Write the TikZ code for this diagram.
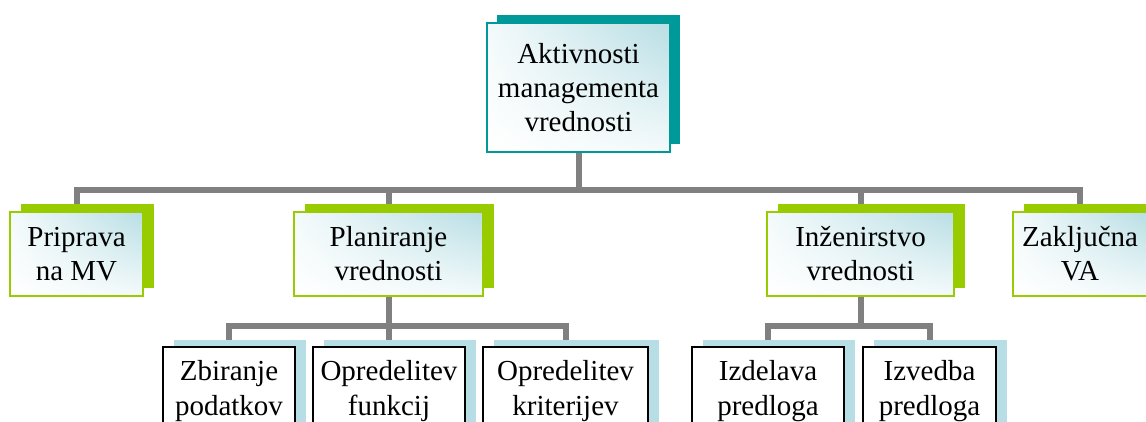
\documentclass[tikz,border=0pt]{standalone}
\usepackage{fontspec}
\setmainfont{Liberation Serif}
\usetikzlibrary{shadows,shadings,backgrounds}

\definecolor{tealdark}{RGB}{0,153,153}
\definecolor{limegreen}{RGB}{153,204,0}
\definecolor{paleblue}{RGB}{183,222,228}
\definecolor{paletint}{RGB}{244,250,251}
\definecolor{connectorgray}{RGB}{128,128,128}

\tikzset{
  box/.style={rectangle, inner sep=0pt, align=center,
    font=\fontsize{29}{34}\selectfont,
    upper left=paletint, upper right=paleblue,
    lower left=white, lower right=paletint},
  rootbox/.style={box, draw=tealdark, line width=1.5pt,
    general shadow={fill=tealdark, shadow xshift=10pt, shadow yshift=8pt}},
  phasebox/.style={box, draw=limegreen, line width=2pt,
    general shadow={fill=limegreen, shadow xshift=11pt, shadow yshift=8pt}},
  taskbox/.style={rectangle, inner sep=0pt, align=center,
    font=\fontsize{29}{35}\selectfont,
    fill=white, draw=black, line width=2.5pt,
    general shadow={fill=paleblue, shadow xshift=11pt, shadow yshift=7pt}},
  conn/.style={draw=connectorgray, line width=6pt}
}

\begin{document}
\begin{tikzpicture}[x=1pt, y=1pt]
  \useasboundingbox (0,0) rectangle (1146,-422);

  % root
  \node[rootbox, minimum width=183pt, minimum height=129pt]
    (root) at (578.5,-87.5) {Aktivnosti\\managementa\\vrednosti};

  % phases
  \node[phasebox, minimum width=133pt, minimum height=84pt]
    (prip) at (76.5,-254) {Priprava\\na MV};
  \node[phasebox, minimum width=189pt, minimum height=84pt]
    (plan) at (388.5,-254) {Planiranje\\vrednosti};
  \node[phasebox, minimum width=187pt, minimum height=84pt]
    (inz) at (860.5,-254) {Inženirstvo\\vrednosti};
  \node[phasebox, minimum width=134pt, minimum height=84pt]
    (zakl) at (1080,-254) {Zaključna\\VA};

  % tasks
  \node[taskbox, minimum width=132pt, minimum height=88pt]
    (zbir) at (229,-391) {Zbiranje\\podatkov};
  \node[taskbox, minimum width=152pt, minimum height=88pt]
    (funk) at (389,-391) {Opredelitev\\funkcij};
  \node[taskbox, minimum width=165pt, minimum height=88pt]
    (krit) at (565.5,-391) {Opredelitev\\kriterijev};
  \node[taskbox, minimum width=152pt, minimum height=88pt]
    (izde) at (768,-391) {Izdelava\\predloga};
  \node[taskbox, minimum width=133pt, minimum height=88pt]
    (izve) at (929.5,-391) {Izvedba\\predloga};

  % connectors
  \coordinate (busA) at (578.5,-190);
  \coordinate (busB) at (388.5,-326);
  \coordinate (busC) at (860.5,-326);
  \begin{scope}[on background layer]
    \foreach \c in {prip,plan,inz,zakl}
      \draw[conn] (root.south) -- (root.south |- busA) -| (\c.north);
    \foreach \c in {zbir,funk,krit}
      \draw[conn] (plan.south) -- (plan.south |- busB) -| (\c.north);
    \foreach \c in {izde,izve}
      \draw[conn] (inz.south) -- (inz.south |- busC) -| (\c.north);
  \end{scope}
\end{tikzpicture}
\end{document}
